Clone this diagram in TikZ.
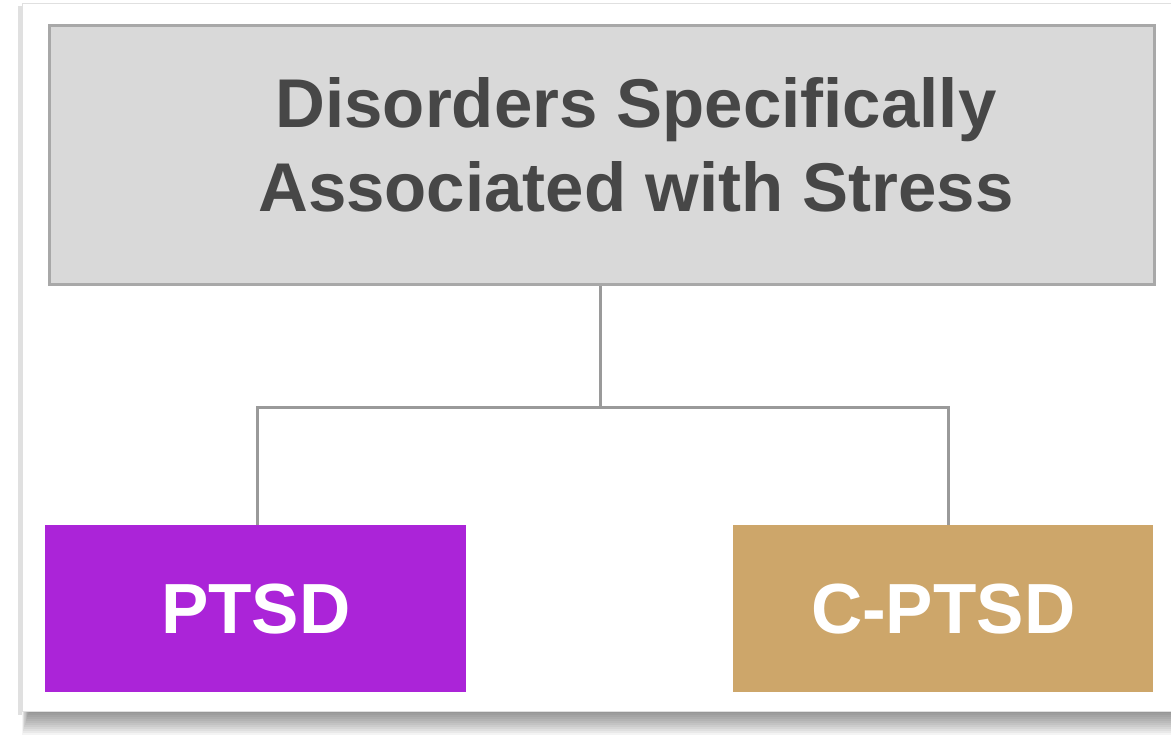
\documentclass[tikz,border=0pt]{standalone}
\usepackage{fontspec}
\setmainfont{Liberation Sans}
\definecolor{boxgray}{HTML}{D9D9D9}
\definecolor{boxedge}{HTML}{A8A8A8}
\definecolor{txtgray}{HTML}{474747}
\definecolor{linegray}{HTML}{9A9A9A}
\definecolor{ptsdpurple}{HTML}{AB24D8}
\definecolor{cptsdtan}{HTML}{CDA66A}
\tikzset{
  card/.style={draw=black!12, line width=1pt, fill=white},
  topbox/.style={draw=boxedge, line width=3pt, fill=boxgray, inner sep=0pt},
  toptxt/.style={text=txtgray, font=\fontsize{69}{84}\selectfont\bfseries, align=center, inner sep=0pt},
  leafbox/.style={inner sep=0pt, text=white, font=\fontsize{71}{84}\selectfont\bfseries},
  conn/.style={draw=linegray, line width=3pt}
}
\begin{document}
\begin{tikzpicture}[x=1pt,y=-1pt]
\useasboundingbox (0,0) rectangle (1171,740);
% shadow of card
\foreach \i in {0,2,...,24}{
  \fill[black, opacity=0.045] (22+\i*0.3,600) rectangle (1171,711+24-\i);
}
\fill[black,opacity=0.12] (18,6) rectangle (22,715);
% card
\filldraw[card] (22,3) rectangle (1171,711);
% top box
\node[topbox, minimum width=1105pt, minimum height=259pt, anchor=north west] (top) at (48,24) {};
\node[toptxt] (toptext) at (636,145) {Disorders Specifically\\Associated with Stress};
% leaves
\node[leafbox, fill=ptsdpurple, minimum width=421pt, minimum height=167pt, anchor=north west] (ptsd) at (45,525) {PTSD};
\node[leafbox, fill=cptsdtan, minimum width=420pt, minimum height=167pt, anchor=north west] (cptsd) at (733,525) {C-PTSD};
% connectors
\coordinate (j) at (600,407);
\draw[conn] (top.south -| j) -- (j);
\draw[conn] (ptsd.north -| 257,0) |- (j) -| (cptsd.north -| 948,0);
\end{tikzpicture}
\end{document}
